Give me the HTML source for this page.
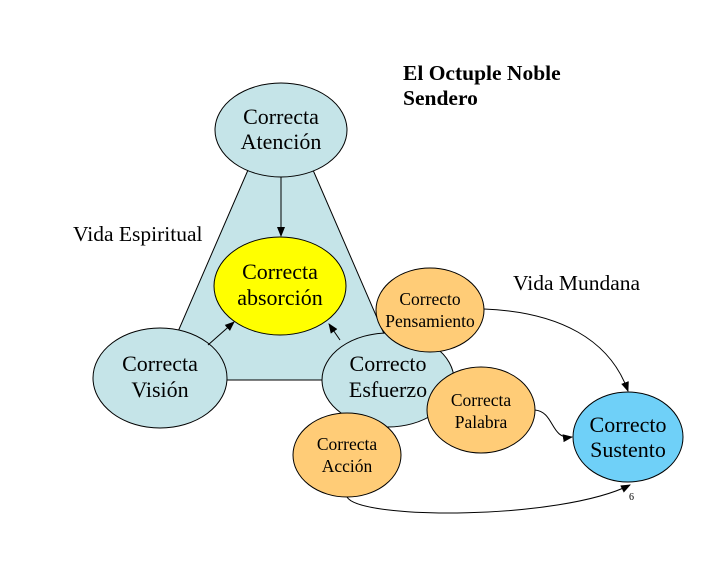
<!DOCTYPE html>
<html><head><meta charset="utf-8"><style>body{margin:0;background:#fff}svg{display:block}text{font-family:"Liberation Serif",serif}</style></head>
<body>
<svg width="728" height="563" viewBox="0 0 728 563" xmlns="http://www.w3.org/2000/svg">
<defs><marker id="a" markerWidth="10" markerHeight="10" refX="9" refY="5" orient="auto" markerUnits="userSpaceOnUse"><path d="M0,1 L10,5 L0,9 Z" fill="#000"/></marker></defs>
<rect width="728" height="563" fill="#fff"/>
<polygon points="248,170 313,170 404,380 157,380" fill="#c5e4e8" stroke="#000" stroke-width="1"/>
<g stroke="#000" stroke-width="1">
<ellipse cx="281" cy="130" rx="66" ry="47" fill="#c5e4e8"/>
<ellipse cx="280" cy="286" rx="66" ry="49" fill="#ffff00"/>
<ellipse cx="160" cy="378" rx="67" ry="50" fill="#c5e4e8"/>
<ellipse cx="388" cy="380" rx="66" ry="47" fill="#c5e4e8"/>
<ellipse cx="430" cy="310" rx="54" ry="42" fill="#ffcc77"/>
<ellipse cx="481" cy="410" rx="54" ry="43" fill="#ffcc77"/>
<ellipse cx="347" cy="455" rx="54" ry="42" fill="#ffcc77"/>
<ellipse cx="628" cy="437" rx="55" ry="45" fill="#6fd0f8"/>
</g>
<g stroke="#000" stroke-width="1" fill="none" marker-end="url(#a)">
<line x1="281" y1="177" x2="281" y2="236"/>
<line x1="208" y1="345" x2="234" y2="322"/>
<line x1="340" y1="340" x2="329" y2="324"/>
<path d="M484,309 C560,312 610,340 628,391"/>
<path d="M535,410 C555,412 550,440 572,437"/>
<path d="M347,497 C360,520 560,520 630,485"/>
</g>
<g font-size="22" text-anchor="middle" fill="#000">
<text x="281" y="124">Correcta</text><text x="281" y="149">Atención</text>
<text x="280" y="279">Correcta</text><text x="280" y="305">absorción</text>
<text x="160" y="371">Correcta</text><text x="160" y="397">Visión</text>
<text x="388" y="371">Correcto</text><text x="388" y="397">Esfuerzo</text>
<text x="628" y="432">Correcto</text><text x="628" y="457">Sustento</text>
</g>
<g font-size="17.5" text-anchor="middle" fill="#000">
<text x="430" y="305">Correcto</text><text x="430" y="327">Pensamiento</text>
<text x="481" y="406">Correcta</text><text x="481" y="428">Palabra</text>
<text x="347" y="450">Correcta</text><text x="347" y="472">Acción</text>
</g>
<text x="403" y="80" font-size="21.5" font-weight="bold">El Octuple Noble</text>
<text x="403" y="105" font-size="21.5" font-weight="bold">Sendero</text>
<text x="73" y="241" font-size="21.5">Vida Espiritual</text>
<text x="513" y="290" font-size="21.5">Vida Mundana</text>
<text x="629" y="500" font-size="10">6</text>
</svg>
</body></html>
